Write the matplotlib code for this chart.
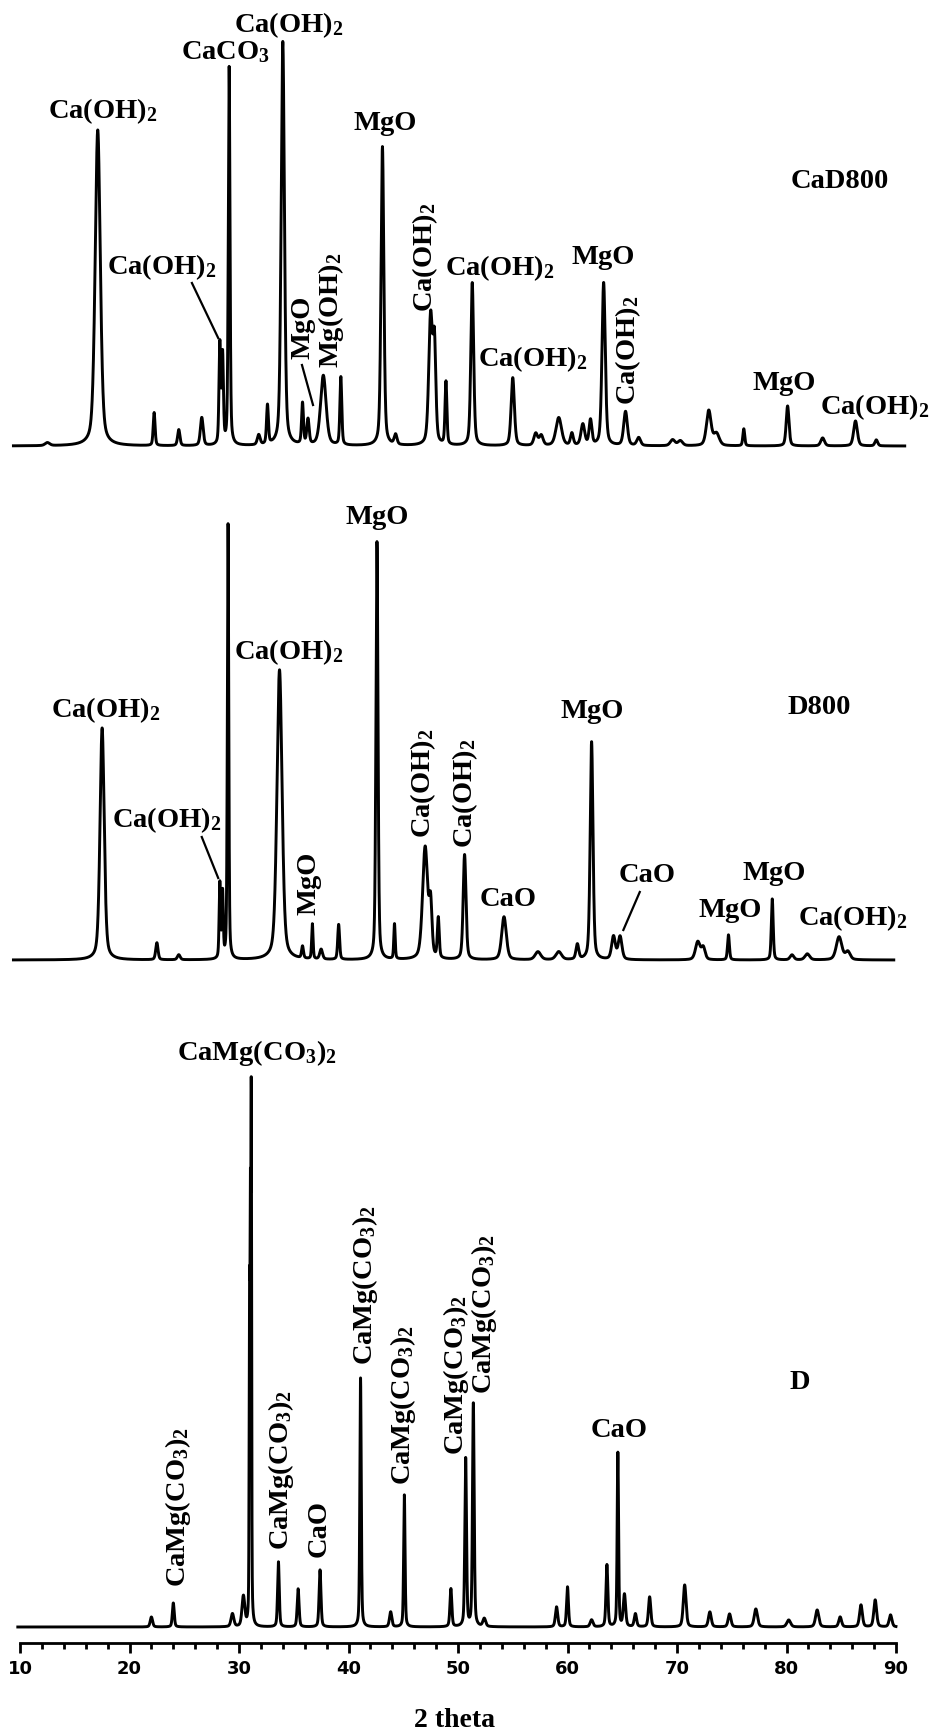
import numpy as np
import matplotlib
matplotlib.use('Agg')
import matplotlib.pyplot as plt

plt.rcParams['font.family'] = 'Liberation Serif'
plt.rcParams['font.weight'] = 'bold'
plt.rcParams['mathtext.fontset'] = 'custom'
plt.rcParams['mathtext.rm'] = 'Liberation Serif:bold'
plt.rcParams['mathtext.it'] = 'Liberation Serif:bold'
plt.rcParams['mathtext.bf'] = 'Liberation Serif:bold'

# peak tables: 2theta position, intensity (a.u.), FWHM
cad800_pos = [12.5, 17.1, 22.25, 24.5, 26.6, 28.25, 28.5, 29.1, 31.8, 32.6, 34.0, 35.8, 36.3, 37.7,
              39.3, 43.1, 44.3, 47.5, 47.85, 48.9, 51.3, 55.0, 57.1, 57.6, 59.2, 60.4, 61.4, 62.1,
              63.3, 65.3, 66.5, 69.6, 70.3, 72.9, 73.6, 76.1, 80.1, 83.3, 86.3, 88.2]
cad800_int = [3, 316, 33, 16, 28, 100, 88, 378, 10, 39, 404, 41, 25, 70,
              68, 299, 10, 128, 95, 63, 163, 68, 12, 10, 28, 12, 21, 25,
              163, 34, 8, 6, 5, 35, 12, 17, 40, 8, 25, 6]
cad800_fwhm = [0.5, 0.55, 0.2, 0.25, 0.3, 0.18, 0.18, 0.18, 0.3, 0.2, 0.35, 0.2, 0.25, 0.6,
               0.2, 0.3, 0.3, 0.4, 0.3, 0.2, 0.3, 0.35, 0.4, 0.4, 0.6, 0.3, 0.4, 0.3,
               0.35, 0.4, 0.4, 0.5, 0.5, 0.5, 0.6, 0.2, 0.3, 0.4, 0.4, 0.3]

d800_pos = [17.5, 22.5, 24.5, 28.25, 28.5, 29.0, 33.7, 35.8, 36.7, 37.5, 39.1, 42.6, 44.2, 47.0,
            47.5, 48.2, 50.6, 54.2, 57.3, 59.2, 60.9, 62.2, 64.2, 64.8, 71.9, 72.4, 74.7, 78.7,
            80.5, 81.9, 84.8, 85.6]
d800_int = [232, 17, 5, 75, 65, 435, 290, 12, 35, 10, 35, 418, 35, 112,
            50, 40, 105, 43, 8, 8, 15, 218, 23, 23, 18, 12, 25, 61,
            5, 6, 23, 8]
d800_fwhm = [0.45, 0.25, 0.3, 0.15, 0.15, 0.15, 0.55, 0.2, 0.15, 0.3, 0.2, 0.22, 0.15, 0.55,
             0.3, 0.2, 0.3, 0.5, 0.6, 0.6, 0.3, 0.3, 0.4, 0.4, 0.5, 0.4, 0.2, 0.2,
             0.4, 0.5, 0.6, 0.5]

d_pos = [22.0, 24.0, 29.4, 30.4, 30.96, 31.04, 31.12, 33.6, 35.4, 37.4, 41.1, 43.85, 45.1, 49.35,
         50.7, 51.4, 52.4, 59.0, 60.0, 62.2, 63.6, 64.6, 65.2, 66.2, 67.5, 70.7, 73.0, 74.8,
         77.2, 80.2, 82.8, 84.9, 86.8, 88.1, 89.5]
d_int = [10, 24, 13, 30, 300, 363, 497, 65, 38, 57, 249, 15, 132, 38,
         168, 223, 8, 20, 40, 7, 62, 174, 32, 13, 30, 42, 15, 13,
         18, 7, 17, 10, 22, 27, 12]
d_fwhm = [0.25, 0.2, 0.3, 0.3, 0.08, 0.08, 0.08, 0.18, 0.2, 0.2, 0.15, 0.25, 0.15, 0.2,
          0.18, 0.18, 0.3, 0.25, 0.2, 0.3, 0.2, 0.15, 0.25, 0.25, 0.25, 0.3, 0.3, 0.3,
          0.35, 0.4, 0.35, 0.3, 0.3, 0.3, 0.3]

CAOH = r'Ca(OH)$_2$'
MGOH = r'Mg(OH)$_2$'
CACO3 = r'CaCO$_3$'
DOL = r'CaMg(CO$_3$)$_2$'


def pattern(x, pos, inten, fwhm):
    y = np.zeros_like(x)
    for p, h, w in zip(pos, inten, fwhm):
        u = (x - p) / w
        y += h * (0.6 * np.exp(-4 * np.log(2) * u ** 2) + 0.4 / (1 + 4 * u ** 2))
    return y


fig = plt.figure(figsize=(9.33, 17.35), dpi=100)
ax = fig.add_axes([20 / 933, 92 / 1735, 876 / 933, 1643 / 1735])
ax.set_xlim(10, 90)
ax.set_ylim(0, 1643)

traces = [
    (np.arange(9.4, 90.8, 0.004), cad800_pos, cad800_int, cad800_fwhm, 1197),
    (np.arange(9.4, 89.8, 0.004), d800_pos, d800_int, d800_fwhm, 683),
    (np.arange(9.8, 90.0, 0.004), d_pos, d_int, d_fwhm, 16),
]
for x, pos, inten, fwhm, base in traces:
    ax.plot(x, base + pattern(x, pos, inten, fwhm), color='black', lw=2.1, clip_on=False)

kw = dict(ha='center', va='center', fontsize=20.5, fontweight='bold')

# CaD800
for x, y, s, r in [(17.58, 1532, CAOH, 0), (28.81, 1591, CACO3, 0), (34.57, 1618, CAOH, 0),
                   (22.97, 1376, CAOH, 0), (35.84, 1316, 'MgO', 90), (38.40, 1333, MGOH, 90),
                   (43.33, 1519, 'MgO', 0), (46.99, 1386, CAOH, 90), (53.84, 1375, CAOH, 0),
                   (63.24, 1386, 'MgO', 0), (56.85, 1284, CAOH, 0), (65.53, 1293, CAOH, 90),
                   (79.77, 1260, 'MgO', 0), (88.08, 1236, CAOH, 0), (84.89, 1462, 'CaD800', 0)]:
    ax.text(x, y, s, rotation=r, **kw)
ax.plot([25.7, 28.1], [1360, 1305], color='black', lw=1.6)
ax.plot([35.75, 36.76], [1278, 1238], color='black', lw=1.6)

# D800
for x, y, s, r in [(17.85, 933, CAOH, 0), (23.42, 823, CAOH, 0), (34.57, 991, CAOH, 0),
                   (36.39, 760, 'MgO', 90), (42.60, 1126, 'MgO', 0), (46.80, 860, CAOH, 90),
                   (50.64, 850, CAOH, 90), (54.57, 744, 'CaO', 0), (62.24, 931, 'MgO', 0),
                   (82.97, 936, 'D800', 0), (67.26, 768, 'CaO', 0), (74.84, 733, 'MgO', 0),
                   (78.86, 770, 'MgO', 0), (86.07, 725, CAOH, 0)]:
    ax.text(x, y, s, rotation=r, **kw)
ax.plot([26.6, 28.1], [806, 765], color='black', lw=1.6)
ax.plot([66.6, 65.1], [751, 713], color='black', lw=1.6)

# D
for x, y, s, r in [(31.64, 590, DOL, 0), (24.4, 136, DOL, 90), (33.8, 173, DOL, 90),
                   (37.3, 115, 'CaO', 90), (41.5, 358, DOL, 90), (45.0, 238, DOL, 90),
                   (49.8, 268, DOL, 90), (52.4, 329, DOL, 90), (64.7, 213, 'CaO', 0),
                   (81.23, 261, 'D', 0)]:
    ax.text(x, y, s, rotation=r, **kw)

for side in ['top', 'left', 'right']:
    ax.spines[side].set_visible(False)
ax.spines['bottom'].set_linewidth(2.0)
ax.set_yticks([])
ax.set_xticks(np.arange(10, 91, 10))
ax.set_xticks(np.arange(10, 91, 2), minor=True)
ax.tick_params(axis='x', which='major', direction='out', length=7, width=2.0, pad=5)
ax.tick_params(axis='x', which='minor', direction='out', length=4, width=2.0)
for lbl in ax.get_xticklabels():
    lbl.set_fontfamily('DejaVu Sans')
    lbl.set_fontweight('heavy')
    lbl.set_fontsize(13)

fig.text(455 / 933, 1 - 1720 / 1735, '2 theta', ha='center', va='center', fontsize=20, fontweight='bold')

fig.savefig('out.png', dpi=100, facecolor='white')
